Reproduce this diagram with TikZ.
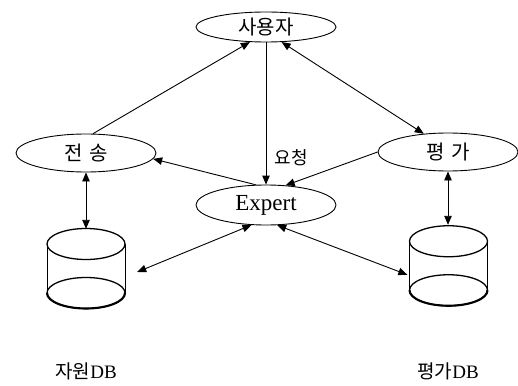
\documentclass[tikz,border=0pt]{standalone}
\usepackage{fontspec}
\setmainfont{Liberation Serif}
\newfontfamily\kr{Noto Sans CJK KR}
\usetikzlibrary{arrows.meta,calc,shapes.geometric}

\tikzset{
  proc/.style={draw, ellipse, line width=0.9pt, minimum width=140pt, inner sep=0pt},
  krtext/.style={font=\kr\fontsize{20}{22}\selectfont},
  tip/.style={line width=0.9pt},
  link/.style={tip, -{Triangle[length=9pt,width=7.5pt]}},
  both/.style={tip, {Triangle[length=9pt,width=7.5pt]}-{Triangle[length=9pt,width=7.5pt]}},
  dbcyl/.pic={
    \draw[line width=1.3pt] (0,-24.5) ellipse [x radius=39pt, y radius=15.5pt];
    \draw[line width=0.9pt] (-39,-24.5) -- (-39,24.5) (39,-24.5) -- (39,24.5);
    \draw[line width=1.3pt] (0,24.5) ellipse [x radius=39pt, y radius=15.5pt];
    \draw[line width=2.1pt] (-39,24.5) arc[start angle=180, end angle=360, x radius=39pt, y radius=15.5pt];
  }
}

\begin{document}
\begin{tikzpicture}[x=1pt,y=-1pt]
\useasboundingbox (0,0) rectangle (518,385);

% processes
\node[proc, krtext, minimum height=30pt] (user) at (266,27) {사용자};
\node[proc, krtext, minimum height=38pt] (send) at (86,153) {전\hspace{0.35em}송};
\node[proc, krtext, minimum height=38pt] (eval) at (448,152) {평\hspace{0.3em}가};
\node[proc, minimum height=40pt, font=\fontsize{23}{25}\selectfont] (ex) at (266,205) {Expert};

% databases
\pic at (86,268.5) {dbcyl};
\pic at (448.5,265.75) {dbcyl};
\node[minimum width=78pt, minimum height=79pt, inner sep=0pt] (dbA) at (86,268.5) {};
\node[minimum width=78pt, minimum height=81.5pt, inner sep=0pt] (dbB) at (448.5,265.75) {};

\node[font=\kr\fontsize{19}{20}\selectfont] (labA) at (86,371) {자원\rmfamily DB};
\node[font=\kr\fontsize{19}{20}\selectfont] (labB) at (448,371) {평가\rmfamily DB};

% connectors
\draw[link] (send.70) -- (user.223);
\draw[both] (user.316) -- (eval.143);
\draw[link] (user.south) -- (ex.north);
\node[font=\kr\fontsize{18}{19}\selectfont] (req) at (291,158) {요청};
\draw[link] (eval.west) -- (ex.45);
\draw[link] (ex.117) -- (send.-5);
\draw[both] (send.south) -- (send.south |- dbA.north);
\draw[both] (eval.south) -- (eval.south |- dbB.north);
\draw[both] (ex.234) -- ($(dbA.east)+(12,3.5)$);
\draw[both] (ex.299) -- ($(dbB.west)+(-2,9)$);
\end{tikzpicture}
\end{document}
